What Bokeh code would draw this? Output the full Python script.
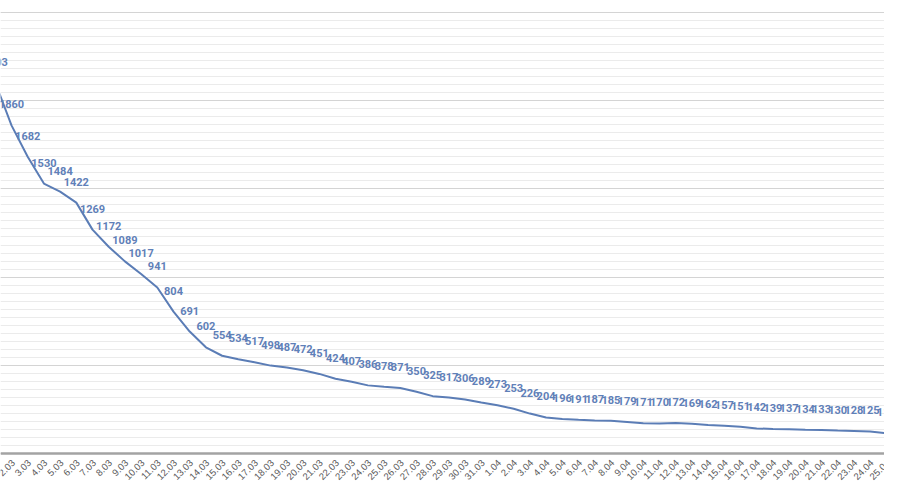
import math
from bokeh.plotting import figure
from bokeh.models import Range1d, FixedTicker, ColumnDataSource, Span
from bokeh.core.properties import value
from bokeh.embed import file_html
from bokeh.resources import INLINE

dates = ["1.03", "2.03", "3.03", "4.03", "5.03", "6.03", "7.03", "8.03", "9.03", "10.03",
         "11.03", "12.03", "13.03", "14.03", "15.03", "16.03", "17.03", "18.03", "19.03", "20.03",
         "21.03", "22.03", "23.03", "24.03", "25.03", "26.03", "27.03", "28.03", "29.03", "30.03",
         "31.03", "1.04", "2.04", "3.04", "4.04", "5.04", "6.04", "7.04", "8.04", "9.04",
         "10.04", "11.04", "12.04", "13.04", "14.04", "15.04", "16.04", "17.04", "18.04", "19.04",
         "20.04", "21.04", "22.04", "23.04", "24.04", "25.04", "26.04"]
values = [2103, 1860, 1682, 1530, 1484, 1422, 1269, 1172, 1089, 1017,
          941, 804, 691, 602, 554, 534, 517, 498, 487, 472,
          451, 424, 407, 386, 378, 371, 350, 325, 317, 306,
          289, 273, 253, 226, 204, 196, 191, 187, 185, 179,
          171, 170, 172, 169, 162, 157, 151, 142, 139, 137,
          134, 133, 130, 128, 125, 115, 112]

major_ticks = [0, 500, 1000, 1500, 2000, 2500]
minor_per_major = 11

idx = list(range(len(dates)))
src = ColumnDataSource(dict(x=idx, y=values, lab=[str(v) for v in values]))
tick_src = ColumnDataSource(dict(x=idx, y=[0] * len(idx), lab=dates))

p = figure(width=884, height=484, output_backend="svg", toolbar_location=None,
           x_range=Range1d(0.321, 54.89), y_range=Range1d(-176, 2568),
           min_border_left=0, min_border_right=0, min_border_top=0, min_border_bottom=0)
p.outline_line_color = None
p.background_fill_color = "white"

p.yaxis.visible = False
p.xaxis.visible = False
p.xgrid.grid_line_color = None
p.ygrid.ticker = FixedTicker(ticks=major_ticks,
                             minor_ticks=[m * major_ticks[1] / minor_per_major
                                          for m in range(minor_per_major * (len(major_ticks) - 1) + 1)])
p.ygrid.grid_line_color = "#d4d4d4"
p.ygrid.grid_line_width = 1
p.ygrid.minor_grid_line_color = "#ebebeb"
p.ygrid.minor_grid_line_width = 1

# category axis line and date labels
p.add_layout(Span(location=0, dimension="width", line_color="#a3a3a3", line_width=2.5))
p.text("x", "y", text="lab", source=tick_src, angle=math.pi / 4, text_align="right",
       text_baseline="middle", x_offset=2, y_offset=8,
       text_font=value("Liberation Sans"), text_font_size="9.5px", text_color="#595959")

p.line("x", "y", source=src, line_color="#5b7db6", line_width=2)
p.text("x", "y", text="lab", source=src, text_align="center", text_baseline="middle",
       y_offset=-21, text_font=value("Roboto"), text_font_style="bold",
       text_font_size="11px", text_color="#5f80b8")

open("out.html", "w").write(file_html(p, INLINE))
